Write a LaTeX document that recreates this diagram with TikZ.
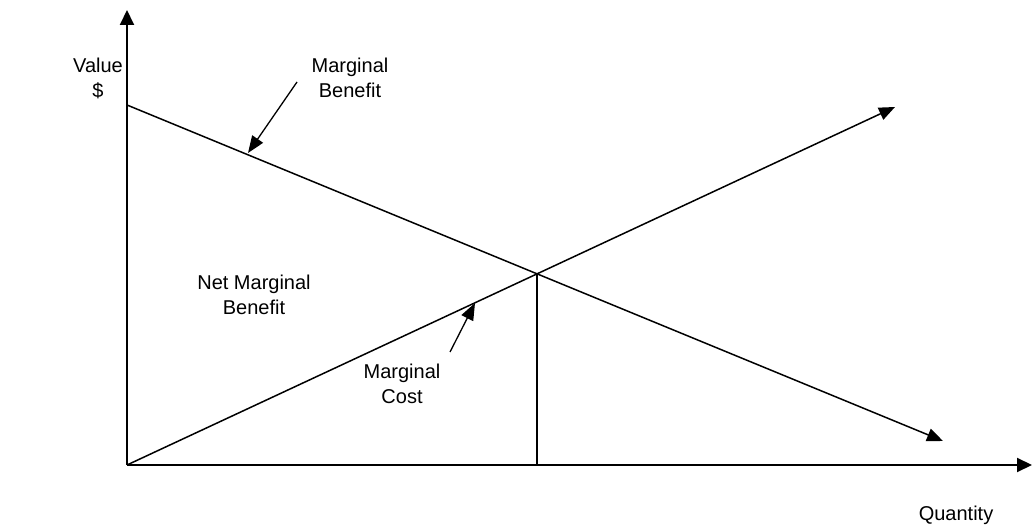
\documentclass[tikz,border=0pt]{standalone}
\usepackage{fontspec}
\setmainfont{Liberation Sans}
\usetikzlibrary{arrows.meta}
\begin{document}
\begin{tikzpicture}[x=1pt,y=-1pt,
  axis/.style={line width=2pt,-{Triangle[length=15pt,width=14pt]}},
  curve/.style={line width=1.5pt,-{Triangle[length=16pt,width=13pt]}},
  pointer/.style={line width=1.3pt,-{Triangle[length=17pt,width=13pt]}},
  lbl/.style={align=center,inner sep=0pt,font=\fontsize{20}{25}\selectfont}]
\useasboundingbox (0,0) rectangle (1033,526);
% axes
\coordinate (O) at (127,465);
\coordinate (ytip) at (127,10);
\coordinate (xtip) at (1032,465);
\draw[axis] (O) -- (ytip);
\draw[axis] (O) -- (xtip);
% marginal benefit and marginal cost curves
\coordinate (mbstart) at (127,105);
\coordinate (mbtip) at (943,441);
\coordinate (mctip) at (895,107);
\draw[curve] (mbstart) -- (mbtip);
\draw[curve] (O) -- (mctip);
% equilibrium drop line
\coordinate (eq) at (537,273.5);
\coordinate (eqq) at (537,465);
\draw[line width=1.5pt] (eq) -- (eqq);
% labels
\node[lbl] (value) at (98,78) {Value\\\$};
\node[lbl] (mblbl) at (350,78) {Marginal\\Benefit};
\node[lbl] (nmb) at (254,295) {Net Marginal\\Benefit};
\node[lbl] (mclbl) at (402,384) {Marginal\\Cost};
\node[lbl] (qty) at (956,515) {Quantity};
% pointers to the curves
\coordinate (mbp0) at (297,82);
\coordinate (mbp1) at (248,153);
\coordinate (mcp0) at (450,352);
\coordinate (mcp1) at (475,303);
\draw[pointer] (mbp0) -- (mbp1);
\draw[pointer] (mcp0) -- (mcp1);
\end{tikzpicture}
\end{document}
